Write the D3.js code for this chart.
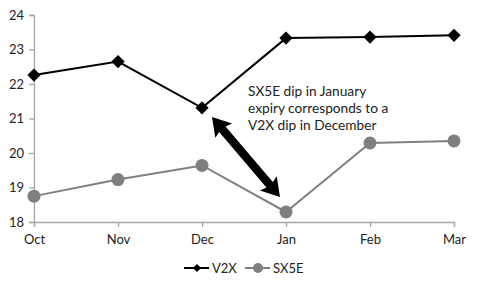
<!DOCTYPE html>
<html><head><meta charset="utf-8">
<script src="https://cdn.jsdelivr.net/npm/d3@7"></script>
<style>body{margin:0;background:#fff}svg{display:block}</style>
</head><body>
<script>
const months = ["Oct","Nov","Dec","Jan","Feb","Mar"];
const v2x = [22.26, 22.65, 21.31, 23.33, 23.36, 23.41];
const sx5e = [18.75, 19.23, 19.64, 18.29, 20.29, 20.35];
const yTicks = [18,19,20,21,22,23,24];
const note = ["SX5E dip in January","expiry corresponds to a","V2X dip in December"];

const W=480,H=298;
const svg=d3.select("body").append("svg").attr("width",W).attr("height",H);
const font="Lato, 'Open Sans', sans-serif";
const x=d3.scalePoint().domain(months).range([34,454]);
const y=d3.scaleLinear().domain([18,24]).range([222,15]);

const axisColor="#a6a6a6";
const yAx=svg.append("g").attr("transform","translate(34,0)").call(d3.axisLeft(y).tickValues(yTicks).tickSize(5).tickPadding(5).tickFormat(d3.format("d")));
const xAx=svg.append("g").attr("transform","translate(0,222)").call(d3.axisBottom(x).tickSize(5).tickPadding(8));
[yAx,xAx].forEach(g=>{
  g.selectAll("path,line").attr("stroke",axisColor).attr("stroke-width",1.3);
  g.selectAll("text").attr("font-family",font).attr("font-size",13).attr("fill","#222");
});

const line=d3.line().x((d,i)=>x(months[i])).y(d=>y(d));
svg.append("path").datum(sx5e).attr("d",line).attr("fill","none").attr("stroke","#7f7f7f").attr("stroke-width",2);
svg.append("path").datum(v2x).attr("d",line).attr("fill","none").attr("stroke","#000").attr("stroke-width",2);
svg.selectAll(".c").data(sx5e).enter().append("circle").attr("cx",(d,i)=>x(months[i])).attr("cy",d=>y(d)).attr("r",6.5).attr("fill","#7f7f7f");
svg.selectAll(".d").data(v2x).enter().append("path").attr("d",d3.symbol().type(d3.symbolSquare).size(88)).attr("transform",(d,i)=>`translate(${x(months[i])},${y(d)}) rotate(45)`).attr("fill","#000");

// annotation
svg.append("g").selectAll("text").data(note).enter().append("text")
  .attr("x",248).attr("y",(d,i)=>96+i*17).attr("font-family",font).attr("font-size",13.7).attr("fill","#222").text(d=>d);

// double arrow from Dec V2X to Jan SX5E
const p1=[212,117], p2=[280,197];
const dx=p2[0]-p1[0], dy=p2[1]-p1[1], L=Math.hypot(dx,dy);
const ux=dx/L, uy=dy/L, nx=-uy, ny=ux;
const hl=18, hw=11, sw=4.2;
const pt=(t,o)=>[p1[0]+ux*t+nx*o, p1[1]+uy*t+ny*o];
const poly=[pt(0,0),pt(hl,hw),pt(hl-2,sw),pt(L-hl+2,sw),pt(L-hl,hw),pt(L,0),pt(L-hl,-hw),pt(L-hl+2,-sw),pt(hl-2,-sw),pt(hl,-hw)];
svg.append("polygon").attr("points",poly.map(p=>p.join(",")).join(" ")).attr("fill","#000");

// legend
const lg=svg.append("g");
lg.append("line").attr("x1",184).attr("x2",209).attr("y1",268).attr("y2",268).attr("stroke","#000").attr("stroke-width",2);
lg.append("path").attr("d",d3.symbol().type(d3.symbolSquare).size(34)).attr("transform","translate(197,268) rotate(45)").attr("fill","#000");
lg.append("text").attr("x",212).attr("y",272.5).attr("font-family",font).attr("font-size",13).attr("fill","#222").text("V2X");
lg.append("line").attr("x1",245).attr("x2",270).attr("y1",268).attr("y2",268).attr("stroke","#7f7f7f").attr("stroke-width",2);
lg.append("circle").attr("cx",258).attr("cy",268).attr("r",5).attr("fill","#7f7f7f");
lg.append("text").attr("x",273).attr("y",272.5).attr("font-family",font).attr("font-size",13).attr("fill","#222").text("SX5E");
</script>
</body></html>
